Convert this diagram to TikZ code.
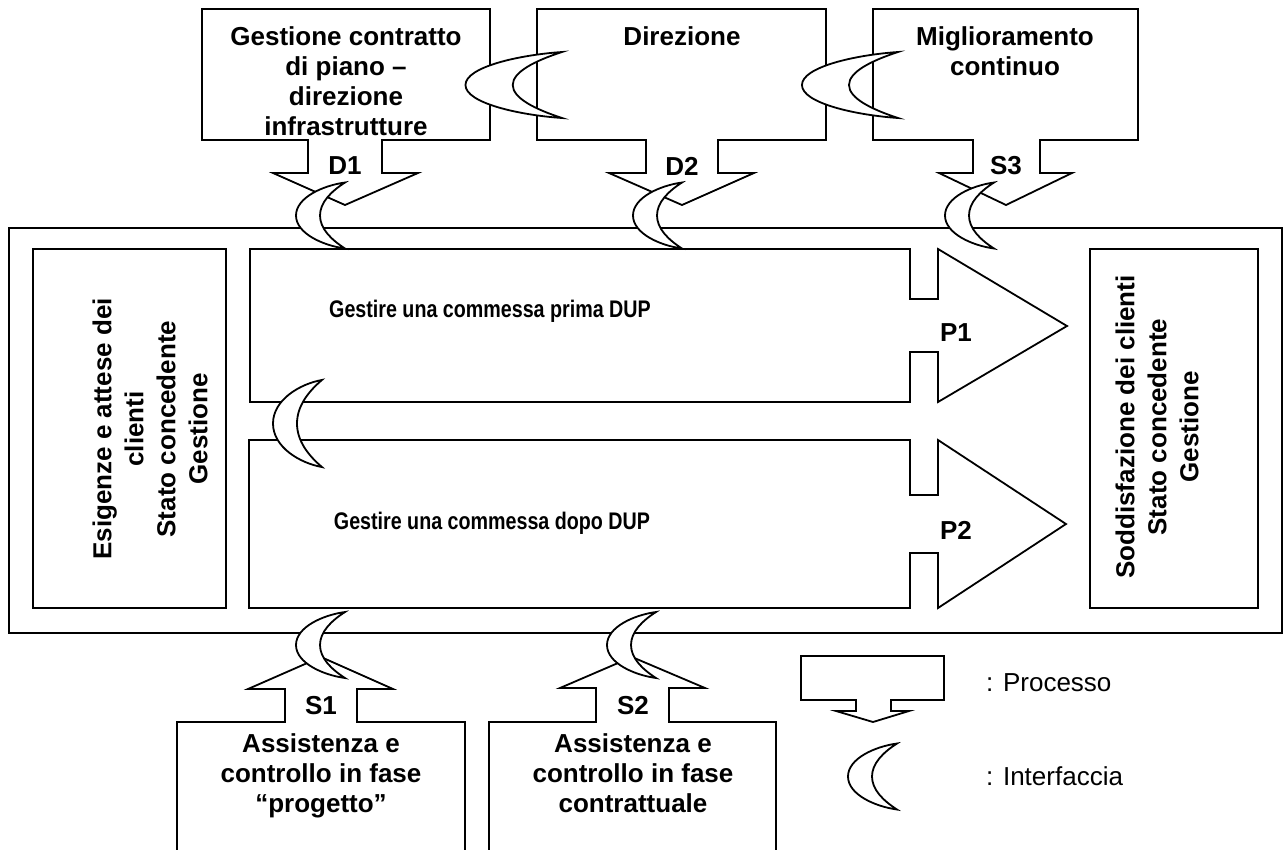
\documentclass[tikz,border=0pt]{standalone}
\usepackage{fontspec}
\setmainfont{Liberation Sans}
\newfontfamily\narrowsans{Liberation Sans}[FakeStretch=0.82]
\begin{document}
\begin{tikzpicture}[x=1pt,y=-1pt,
  outline/.style={draw=black, line width=1.8pt, line join=miter, fill=white},
  frame/.style={draw=black, line width=1.8pt},
  boldtext/.style={inner sep=0pt, font=\fontsize{26}{30}\selectfont\bfseries, align=center},
  sidetext/.style={inner sep=0pt, font=\fontsize{26}{32}\selectfont\bfseries, align=center, rotate=90},
  proctext/.style={inner sep=0pt, font=\fontsize{24}{28}\selectfont\narrowsans\bfseries},
  legendtext/.style={inner sep=0pt, font=\fontsize{26}{30}\selectfont, anchor=west},
  crescent/.pic={
    \path[outline] (0,-33) .. controls (-22,-30) and (-49,-18) .. (-49,0)
      .. controls (-49,18) and (-22,30) .. (0,33)
      .. controls (-14,24) and (-25,13) .. (-25,0)
      .. controls (-25,-13) and (-14,-24) .. (0,-33) -- cycle;
  }
]
\useasboundingbox (0,0) rectangle (1288,849);
\clip (0,0) rectangle (1288,849);
\fill[white] (0,0) rectangle (1288,849);

% system frame and the two side boxes
\draw[frame] (9,228) rectangle (1282,633);
\draw[frame] (33,249) rectangle (226,608);
\draw[frame] (1090,249) rectangle (1258,608);

% main processes P1 and P2
\path[outline] (250,249) -- (910,249) -- (910,299) -- (938,299) -- (938,249) -- (1067,326)
  -- (938,402) -- (938,352) -- (910,352) -- (910,402) -- (250,402) -- cycle;
\path[outline] (249,440) -- (910,440) -- (910,495) -- (938,495) -- (938,440) -- (1066,524)
  -- (938,608) -- (938,553) -- (910,553) -- (910,608) -- (249,608) -- cycle;

% steering processes (top)
\path[outline] (202,9) -- (490,9) -- (490,140) -- (382,140) -- (382,173) -- (418,173) -- (345,205)
  -- (273,173) -- (308,173) -- (308,140) -- (202,140) -- cycle;
\path[outline] (537,9) -- (826,9) -- (826,140) -- (718,140) -- (718,173) -- (754,173) -- (682,205)
  -- (609,173) -- (646,173) -- (646,140) -- (537,140) -- cycle;
\path[outline] (873,9) -- (1138,9) -- (1138,140) -- (1040,140) -- (1040,173) -- (1072,173) -- (1006,205)
  -- (939,173) -- (973,173) -- (973,140) -- (873,140) -- cycle;

% support processes (bottom)
\path[outline] (177,860) -- (177,722) -- (285,722) -- (285,689) -- (248,689) -- (321,657)
  -- (393,689) -- (357,689) -- (357,722) -- (465,722) -- (465,860);
\path[outline] (489,860) -- (489,722) -- (596,722) -- (596,688) -- (560,688) -- (632,657)
  -- (705,688) -- (669,688) -- (669,722) -- (776,722) -- (776,860);

% legend process symbol
\path[outline] (801,656) -- (944,656) -- (944,700) -- (891,700) -- (891,711) -- (909,711) -- (873,722)
  -- (836,711) -- (856,711) -- (856,700) -- (801,700) -- cycle;

% interfaces
\pic at (562,85) [xscale=1.97] {crescent};
\pic at (898,85) [xscale=1.96] {crescent};
\pic at (345,215.5) {crescent};
\pic at (682,215.5) {crescent};
\pic at (994,215.5) {crescent};
\pic at (322,423.5) [yscale=1.32] {crescent};
\pic at (345,645) {crescent};
\pic at (656,645) {crescent};
\pic at (897,776.5) {crescent};

% texts
\node[boldtext, anchor=north] (gest) at (346,26) {Gestione contratto\\di piano –\\direzione\\infrastrutture};
\node[boldtext, anchor=north] (dir) at (682,26) {Direzione};
\node[boldtext, anchor=north] (migl) at (1005,26) {Miglioramento\\continuo};
\node[boldtext] (d1) at (345,166) {D1};
\node[boldtext] (d2) at (682,166) {D2};
\node[boldtext] (s3) at (1006,166) {S3};

\node[sidetext] (esig) at (150,429) {Esigenze e attese dei\\clienti\\Stato concedente\\Gestione};
\node[sidetext] (sodd) at (1157,427) {Soddisfazione dei clienti\\Stato concedente\\Gestione};

\node[proctext] (p1text) at (490,311) {Gestire una commessa prima DUP};
\node[proctext] (p2text) at (492,523) {Gestire una commessa dopo DUP};
\node[boldtext] (p1) at (956,333) {P1};
\node[boldtext] (p2) at (956,530) {P2};

\node[boldtext] (s1) at (321,706) {S1};
\node[boldtext] (s2) at (633,706) {S2};
\node[boldtext, anchor=north] (assist1) at (321,733) {Assistenza e\\controllo in fase\\“progetto”};
\node[boldtext, anchor=north] (assist2) at (633,733) {Assistenza e\\controllo in fase\\contrattuale};

\node[legendtext] (legproc) at (986,683) {: Processo};
\node[legendtext] (legint) at (986,776) {: Interfaccia};
\end{tikzpicture}
\end{document}
